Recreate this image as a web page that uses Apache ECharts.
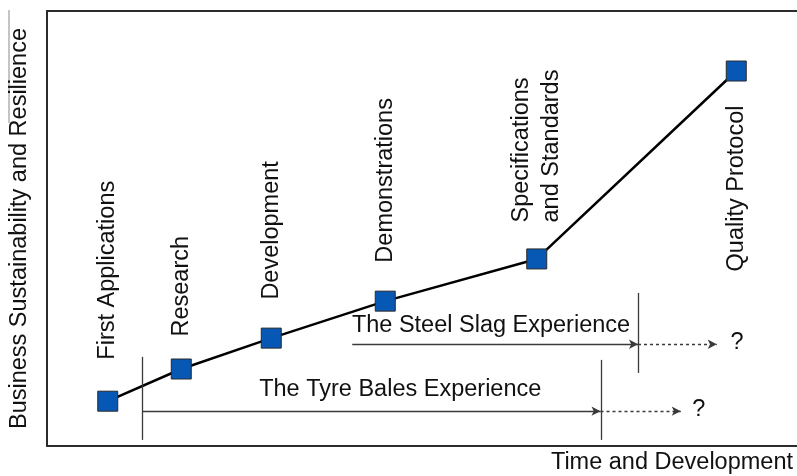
<!DOCTYPE html>
<html>
<head>
<meta charset="utf-8">
<script src="https://cdn.jsdelivr.net/npm/echarts@6/dist/echarts.min.js"></script>
<style>
  html, body { margin: 0; padding: 0; background: #fff; }
  #main { width: 797px; height: 476px; }
</style>
</head>
<body>
<div id="main"></div>
<script>
// milestones along the curve
const stages = ['First Applications', 'Research', 'Development', 'Demonstrations', 'Specifications\nand Standards', 'Quality Protocol'];
const stageTime = [8.1, 17.9, 29.9, 45.1, 65.3, 91.9];
const stageLevel = [10.3, 17.7, 24.8, 33.3, 43.0, 86.2];

// experience spans (arrow level, start, end, projected end)
const experiences = ['The Tyre Bales Experience', 'The Steel Slag Experience'];
const expLevel = [8.0, 23.4];
const expStart = [12.7, 40.7];
const expEnd = [73.8, 78.8];
const expProjected = [84.5, 89.3];
const expTextTime = [47.1, 59.2];
const expTextLevel = [12.9, 27.8];
const questionTime = [86.9, 92.0];
const questionLevel = [8.5, 23.7];

// vertical bars marking the spans
const barTime = [12.7, 73.9, 78.8];
const barLow = [1.4, 1.4, 16.8];
const barHigh = [20.5, 19.8, 35.2];

const FONT = 'Liberation Sans, Arial, sans-serif';
const labelGap = [31, 22, 28, 28, 26, 24];

const myChart = echarts.init(document.getElementById('main'));

const stageData = stages.map((name, i) => {
  const below = i === stages.length - 1;
  return {
    name: name,
    value: [stageTime[i], stageLevel[i]],
    label: {
      position: below ? 'bottom' : 'top',
      align: below ? 'right' : 'left',
      distance: labelGap[i]
    }
  };
});

const arrowLines = [];
experiences.forEach((e, i) => {
  arrowLines.push([
    { coord: [expStart[i], expLevel[i]], symbol: 'none' },
    { coord: [expEnd[i], expLevel[i]], symbol: 'arrow' }
  ]);
  arrowLines.push([
    { coord: [expEnd[i], expLevel[i]], symbol: 'none', lineStyle: { type: [3, 3] } },
    { coord: [expProjected[i], expLevel[i]], symbol: 'arrow', lineStyle: { type: [3, 3] } }
  ]);
});
barTime.forEach((t, i) => {
  arrowLines.push([
    { coord: [t, barLow[i]], symbol: 'none' },
    { coord: [t, barHigh[i]], symbol: 'none' }
  ]);
});

const textData = experiences.map((e, i) => [expTextTime[i], expTextLevel[i], e])
  .concat(questionTime.map((t, i) => [t, questionLevel[i], '?']));

const axisLine = { show: true, lineStyle: { color: '#2b2b2b', width: 2 } };

const option = {
  animation: false,
  grid: { left: 47, right: 0, top: 11, bottom: 30, outerBoundsMode: 'none', containLabel: false },
  xAxis: [
    {
      type: 'value', min: 0, max: 100,
      axisLine: axisLine,
      axisTick: { show: false }, axisLabel: { show: false }, splitLine: { show: false },
      name: 'Time and Development',
      nameLocation: 'end',
      nameGap: -4,
      nameTextStyle: { fontFamily: FONT, fontSize: 23.5, color: '#111', align: 'right', verticalAlign: 'top', padding: [5, 0, 0, 0] }
    },
    {
      type: 'value', min: 0, max: 100, position: 'top',
      axisLine: axisLine,
      axisTick: { show: false }, axisLabel: { show: false }, splitLine: { show: false }
    }
  ],
  yAxis: {
    type: 'value', min: 0, max: 100,
    axisLine: axisLine,
    axisTick: { show: false }, axisLabel: { show: false }, splitLine: { show: false },
    name: 'Business Sustainability and Resilience',
    nameLocation: 'middle',
    nameGap: 15,
    nameTextStyle: { fontFamily: FONT, fontSize: 23.5, color: '#111' }
  },
  graphic: [
    { type: 'line', shape: { x1: 9, y1: 10, x2: 9, y2: 123 }, style: { stroke: '#8a8a8a', lineWidth: 1 } }
  ],
  series: [
    {
      name: 'stages',
      type: 'line',
      data: stageData,
      symbol: 'rect',
      symbolSize: 20,
      itemStyle: { color: '#0757b5', borderColor: '#2a2a2a', borderWidth: 1 },
      lineStyle: { color: '#000', width: 2.5 },
      label: {
        show: true,
        rotate: 90,
        verticalAlign: 'middle',
        lineHeight: 30,
        fontFamily: FONT,
        fontSize: 23.5,
        color: '#111',
        formatter: p => p.name
      },
      z: 3
    },
    {
      name: 'experiences',
      type: 'scatter',
      symbolSize: 0,
      data: textData,
      itemStyle: { opacity: 1 },
      label: {
        show: true,
        position: 'inside',
        align: 'center',
        verticalAlign: 'middle',
        fontFamily: FONT,
        fontSize: 23.5,
        color: '#111',
        opacity: 1,
        formatter: p => p.value[2]
      },
      markLine: {
        silent: true,
        symbolSize: [7, 9],
        label: { show: false },
        lineStyle: { color: '#3a3a3a', width: 1.3, type: 'solid' },
        emphasis: { disabled: true },
        data: arrowLines
      },
      z: 2
    }
  ]
};

myChart.setOption(option);
</script>
</body>
</html>
